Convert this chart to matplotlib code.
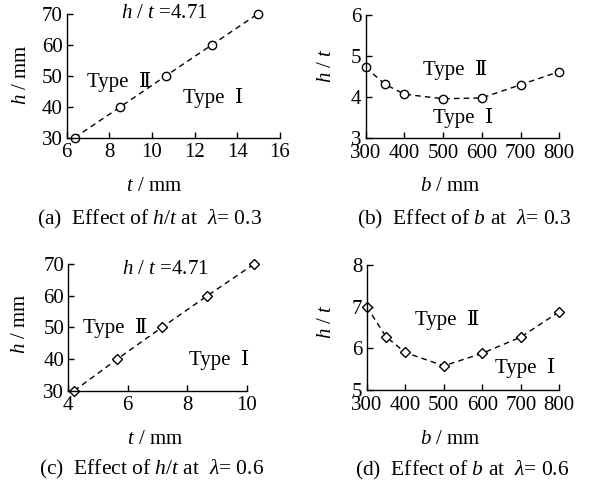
import matplotlib
matplotlib.use("Agg")
import matplotlib.pyplot as plt

plt.rcParams["font.family"] = ["Liberation Serif", "DejaVu Serif"]
plt.rcParams["mathtext.fontset"] = "custom"
plt.rcParams["mathtext.rm"] = "Liberation Serif"
plt.rcParams["mathtext.it"] = "Liberation Serif:italic"

# (a) lambda = 0.3, h vs t
a_t = [6.37, 8.52, 10.65, 12.8, 14.95]
a_h = [30, 40, 50, 60, 70]
# (b) lambda = 0.3, h/t vs b
b_b = [300, 350, 400, 500, 600, 700, 800]
b_ht = [4.72, 4.31, 4.07, 3.96, 3.98, 4.30, 4.62]
# (c) lambda = 0.6, h vs t
c_t = [4.2, 5.65, 7.15, 8.68, 10.25]
c_h = [30, 40, 50, 60, 70]
# (d) lambda = 0.6, h/t vs b
d_b = [300, 350, 400, 500, 600, 700, 800]
d_ht = [7.0, 6.28, 5.9, 5.58, 5.88, 6.27, 6.88]

W, H = 594, 491
fig = plt.figure(figsize=(5.94, 4.91), dpi=100)


def px_axes(l, r, t, b):
    return fig.add_axes([l / W, 1 - b / H, (r - l) / W, (b - t) / H])


def style(ax, xlim, ylim, xticks, yticks):
    ax.set_xlim(xlim)
    ax.set_ylim(ylim)
    ax.set_xticks(xticks)
    ax.set_yticks(yticks)
    for s in ["top", "right"]:
        ax.spines[s].set_visible(False)
    for s in ["left", "bottom"]:
        ax.spines[s].set_linewidth(1.0)
    ax.tick_params(direction="in", length=4, width=1, labelsize=15)
    ax.tick_params(axis="x", pad=4)
    ax.tick_params(axis="y", pad=3)


def ftext(x, y, s, size=15, **kw):
    fig.text(x / W, 1 - y / H, s, fontsize=size, ha="center", va="center", **kw)


line_kw = dict(color="black", linestyle="--", linewidth=1, dashes=(4, 3),
               markerfacecolor="white", markeredgecolor="black", clip_on=False)

t2 = "Type  Ⅱ"
t1 = "Type  Ⅰ"

# (a)
ax = px_axes(66.7, 280, 14, 137.7)
style(ax, (6, 16), (30, 70), range(6, 17, 2), range(30, 71, 10))
ax.plot(a_t, a_h, marker="o", markersize=6, **line_kw)
ax.text(10.6, 70, "$h$ / $t$ =4.71", fontsize=15, ha="center", va="center")
ax.text(6.95, 48.1, t2, fontsize=15, ha="left", va="center")
ax.text(11.45, 42.9, t1, fontsize=15, ha="left", va="center")
ftext(21.7, 75, "$h$ / mm", rotation=90)
ftext(154, 186.7, "$t$ / mm")
ftext(149, 219.3, r"(a)  Effect of $h$/$t$ at  $\lambda$= 0.3", size=15.5)

# (b)
ax = px_axes(365.7, 559.3, 14.7, 138.3)
style(ax, (300, 800), (3, 6), range(300, 801, 100), range(3, 7))
ax.plot(b_b, b_ht, marker="o", markersize=6, **line_kw)
ax.text(448.8, 4.66, t2, fontsize=15, ha="left", va="center")
ax.text(474.6, 3.49, t1, fontsize=15, ha="left", va="center")
ftext(326.7, 65.8, "$h$ / $t$", rotation=90)
ftext(450.7, 186.7, "$b$ / mm")
ftext(464, 219.3, r"(b)  Effect of $b$ at  $\lambda$= 0.3", size=15.5)

# (c)
ax = px_axes(68.3, 246.7, 264, 390.7)
style(ax, (4, 10), (30, 70), range(4, 11, 2), range(30, 71, 10))
ax.plot(c_t, c_h, marker="D", markersize=5, **line_kw)
ax.text(7.25, 68.3, "$h$ / $t$ =4.71", fontsize=15, ha="center", va="center")
ax.text(4.5, 49.7, t2, fontsize=15, ha="left", va="center")
ax.text(8.07, 39.7, t1, fontsize=15, ha="left", va="center")
ftext(20.7, 324, "$h$ / mm", rotation=90)
ftext(155, 440, "$t$ / mm")
ftext(151.7, 469.3, r"(c)  Effect of $h$/$t$ at  $\lambda$= 0.6", size=15.5)

# (d)
ax = px_axes(366.7, 559.3, 265, 390)
style(ax, (300, 800), (5, 8), range(300, 801, 100), range(5, 9))
ax.plot(d_b, d_ht, marker="D", markersize=5, **line_kw)
ax.text(425.4, 6.68, t2, fontsize=15, ha="left", va="center")
ax.text(633, 5.54, t1, fontsize=15, ha="left", va="center")
ftext(326, 321.7, "$h$ / $t$", rotation=90)
ftext(450.7, 440, "$b$ / mm")
ftext(462.5, 470, r"(d)  Effect of $b$ at  $\lambda$= 0.6", size=15.5)

fig.savefig("out.png", dpi=100)
